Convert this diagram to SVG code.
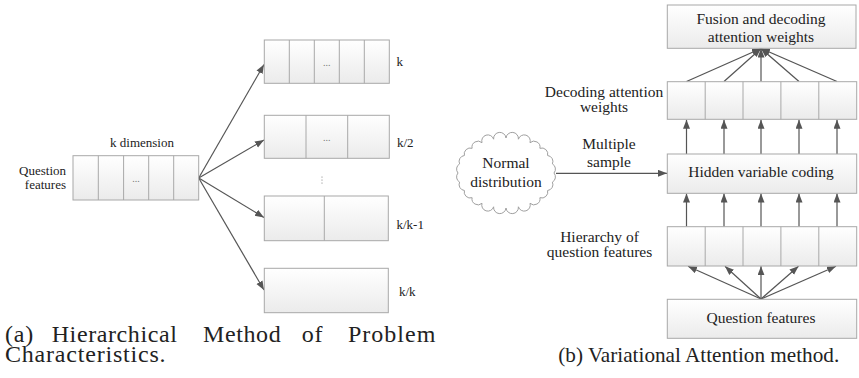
<svg xmlns="http://www.w3.org/2000/svg" width="859" height="378" viewBox="0 0 859 378">
<defs>
<linearGradient id="g" x1="0" y1="0" x2="0" y2="1">
<stop offset="0" stop-color="#ffffff"/>
<stop offset="1" stop-color="#ebebeb"/>
</linearGradient>
<marker id="ah" markerUnits="userSpaceOnUse" markerWidth="10" markerHeight="8" refX="9" refY="3.5" orient="auto">
<path d="M0,0 L9,3.5 L0,7 z" fill="#555"/>
</marker>
</defs>
<rect width="859" height="378" fill="#fff"/>

<g id="connectors" fill="none" stroke="#555" stroke-width="1.2" marker-end="url(#ah)">
<line x1="198.7" y1="178" x2="264" y2="64.5"/>
<line x1="198.7" y1="178" x2="264" y2="140"/>
<line x1="198.7" y1="178" x2="264" y2="217.5"/>
<line x1="198.7" y1="178" x2="264" y2="290"/>
<line x1="686.5" y1="81.5" x2="761" y2="48.5"/>
<line x1="724" y1="81.5" x2="761" y2="48.5"/>
<line x1="761" y1="81.5" x2="761" y2="48.5"/>
<line x1="799" y1="81.5" x2="761" y2="48.5"/>
<line x1="837" y1="81.5" x2="761" y2="48.5"/>
<line x1="686.5" y1="154" x2="686.5" y2="119.8"/>
<line x1="724" y1="154" x2="724" y2="119.8"/>
<line x1="761" y1="154" x2="761" y2="119.8"/>
<line x1="799" y1="154" x2="799" y2="119.8"/>
<line x1="837" y1="154" x2="837" y2="119.8"/>
<line x1="686.5" y1="226.7" x2="686.5" y2="193.6"/>
<line x1="724" y1="226.7" x2="724" y2="193.6"/>
<line x1="761" y1="226.7" x2="761" y2="193.6"/>
<line x1="799" y1="226.7" x2="799" y2="193.6"/>
<line x1="837" y1="226.7" x2="837" y2="193.6"/>
<line x1="761" y1="299" x2="688" y2="266.3"/>
<line x1="761" y1="299" x2="725" y2="266.3"/>
<line x1="761" y1="299" x2="761" y2="266.3"/>
<line x1="761" y1="299" x2="798.5" y2="266.3"/>
<line x1="761" y1="299" x2="836" y2="266.3"/>
<line x1="556" y1="173.3" x2="667" y2="173.3"/>
</g>

<g id="qf-left">
<rect x="73" y="155.7" width="125.7" height="44.3" fill="url(#g)" stroke="#a8a8a8"/>
<path d="M98.3,155.7V200M123.6,155.7V200M148.7,155.7V200M173.7,155.7V200" stroke="#a8a8a8"/>
<text font-family="Liberation Serif" font-size="10" fill="#777" x="136" y="182" text-anchor="middle">...</text>
<text font-family="Liberation Serif" font-size="13" fill="#222" x="66" y="175" text-anchor="end">Question</text>
<text font-family="Liberation Serif" font-size="13" fill="#222" x="66" y="189" text-anchor="end">features</text>
<text font-family="Liberation Serif" font-size="13" fill="#222" x="142" y="147" text-anchor="middle">k dimension</text>
</g>

<g id="box-k">
<rect x="264.3" y="40" width="125" height="43.3" fill="url(#g)" stroke="#a8a8a8"/>
<path d="M289.3,40V83.3M314.3,40V83.3M339.3,40V83.3M364.3,40V83.3" stroke="#a8a8a8"/>
<text font-family="Liberation Serif" font-size="10" fill="#777" x="326.8" y="66" text-anchor="middle">...</text>
<text font-family="Liberation Serif" font-size="13" fill="#222" x="396.5" y="66">k</text>
</g>

<g id="box-k2">
<rect x="264.3" y="115.3" width="125" height="43" fill="url(#g)" stroke="#a8a8a8"/>
<path d="M306,115.3V158.3M347.7,115.3V158.3" stroke="#a8a8a8"/>
<text font-family="Liberation Serif" font-size="10" fill="#777" x="326.8" y="141" text-anchor="middle">...</text>
<text font-family="Liberation Serif" font-size="13" fill="#222" x="397" y="147">k/2</text>
</g>

<g id="vdots" fill="#777">
<circle cx="322" cy="177" r="0.6"/>
<circle cx="322" cy="180" r="0.6"/>
<circle cx="322" cy="183" r="0.6"/>
</g>

<g id="box-kk1">
<rect x="264.3" y="196" width="124" height="44.7" fill="url(#g)" stroke="#a8a8a8"/>
<path d="M324.3,196V240.7" stroke="#a8a8a8"/>
<text font-family="Liberation Serif" font-size="13" fill="#222" x="396.5" y="229">k/k-1</text>
</g>

<g id="box-kk">
<rect x="264.3" y="268.3" width="124" height="44.4" fill="url(#g)" stroke="#a8a8a8"/>
<text font-family="Liberation Serif" font-size="13" fill="#222" x="399" y="296">k/k</text>
</g>

<g id="caption-a">
<text font-family="Liberation Serif" font-size="24" letter-spacing="0.8" fill="#222" x="5" y="341.5">(a)</text>
<text font-family="Liberation Serif" font-size="24" letter-spacing="0.6" fill="#222" x="51.7" y="341.5">Hierarchical</text>
<text font-family="Liberation Serif" font-size="24" letter-spacing="0.6" fill="#222" x="203" y="341.5">Method</text>
<text font-family="Liberation Serif" font-size="24" letter-spacing="0.8" fill="#222" x="301.7" y="341.5">of</text>
<text font-family="Liberation Serif" font-size="24" letter-spacing="1" fill="#222" x="348" y="341.5">Problem</text>
<text font-family="Liberation Serif" font-size="24" letter-spacing="0.8" fill="#222" x="5" y="361.7">Characteristics.</text>
</g>

<g id="fusion">
<rect x="667.3" y="5" width="188.7" height="43.3" fill="url(#g)" stroke="#a8a8a8"/>
<text font-family="Liberation Serif" font-size="15.5" fill="#222" x="761" y="23.5" text-anchor="middle">Fusion and decoding</text>
<text font-family="Liberation Serif" font-size="15.5" fill="#222" x="761" y="41.5" text-anchor="middle">attention weights</text>
</g>

<g id="decoding">
<rect x="667.3" y="81.7" width="189.4" height="37.6" fill="url(#g)" stroke="#a8a8a8"/>
<path d="M705.2,81.7V119.3M743,81.7V119.3M780.9,81.7V119.3M818.8,81.7V119.3" stroke="#a8a8a8"/>
<text font-family="Liberation Serif" font-size="15.5" fill="#222" x="604" y="96.7" text-anchor="middle">Decoding attention</text>
<text font-family="Liberation Serif" font-size="15.5" fill="#222" x="604" y="111.7" text-anchor="middle">weights</text>
</g>

<g id="hidden">
<rect x="667.3" y="154" width="189.4" height="39.3" fill="url(#g)" stroke="#a8a8a8"/>
<text font-family="Liberation Serif" font-size="15.5" fill="#222" x="761" y="176.5" text-anchor="middle">Hidden variable coding</text>
</g>

<g id="normal">
<path fill="#fff" stroke="#a0a0a0" d="M554,173 A6,6 0 0 1 552.4,182.1 A6,6 0 0 1 547.6,190.5 A6,6 0 0 1 539.9,197.7 A6,6 0 0 1 530,203.3 A6,6 0 0 1 518.4,206.8 A6,6 0 0 1 506,208 A6,6 0 0 1 493.6,206.8 A6,6 0 0 1 482,203.3 A6,6 0 0 1 472.1,197.7 A6,6 0 0 1 464.4,190.5 A6,6 0 0 1 459.6,182.1 A6,6 0 0 1 458,173 A6,6 0 0 1 459.6,163.9 A6,6 0 0 1 464.4,155.5 A6,6 0 0 1 472.1,148.3 A6,6 0 0 1 482,142.7 A6,6 0 0 1 493.6,139.2 A6,6 0 0 1 506,138 A6,6 0 0 1 518.4,139.2 A6,6 0 0 1 530,142.7 A6,6 0 0 1 539.9,148.3 A6,6 0 0 1 547.6,155.5 A6,6 0 0 1 552.4,163.9 A6,6 0 0 1 554,173 z"/>
<text font-family="Liberation Serif" font-size="15.5" fill="#222" x="506" y="168" text-anchor="middle">Normal</text>
<text font-family="Liberation Serif" font-size="15.5" fill="#222" x="506" y="186.5" text-anchor="middle">distribution</text>
</g>

<g id="sample-label">
<text font-family="Liberation Serif" font-size="15.5" fill="#222" x="609" y="148.5" text-anchor="middle">Multiple</text>
<text font-family="Liberation Serif" font-size="15.5" fill="#222" x="609" y="166.7" text-anchor="middle">sample</text>
</g>

<g id="hierarchy">
<rect x="667.3" y="226.7" width="189.4" height="39.3" fill="url(#g)" stroke="#a8a8a8"/>
<path d="M705.2,226.7V266M743,226.7V266M780.9,226.7V266M818.8,226.7V266" stroke="#a8a8a8"/>
<text font-family="Liberation Serif" font-size="15.5" fill="#222" x="599.5" y="242.3" text-anchor="middle">Hierarchy of</text>
<text font-family="Liberation Serif" font-size="15.5" fill="#222" x="599.5" y="257.3" text-anchor="middle">question features</text>
</g>

<g id="qf-right">
<rect x="667.3" y="299.3" width="189.4" height="39" fill="url(#g)" stroke="#a8a8a8"/>
<text font-family="Liberation Serif" font-size="15.5" fill="#222" x="761" y="322.5" text-anchor="middle">Question features</text>
</g>

<g id="caption-b">
<text font-family="Liberation Serif" font-size="21.2" fill="#222" x="558.3" y="362.3">(b) Variational Attention method.</text>
</g>
</svg>
